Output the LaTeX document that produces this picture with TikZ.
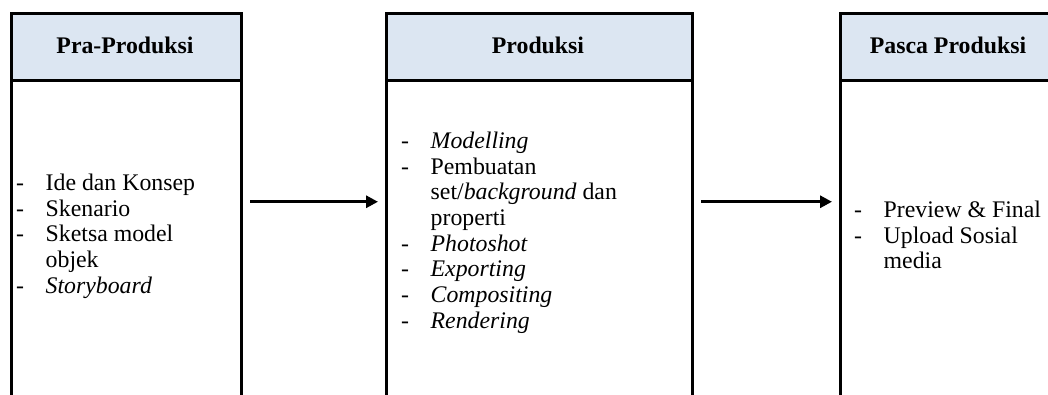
\documentclass[tikz,border=0pt]{standalone}
\usepackage{fontspec}
\setmainfont{Liberation Serif}
\usetikzlibrary{arrows.meta}
\definecolor{hdrfill}{HTML}{DCE6F2}
\newcommand{\itemlist}[1]{\fontsize{23.8}{25.7}\selectfont\renewcommand{\arraystretch}{1}%
  \begin{tabular}{@{}p{29.5pt}@{}l@{}}#1\end{tabular}}
\begin{document}
\begin{tikzpicture}[x=1pt,y=-1pt,
  stagebox/.style={draw=black, line width=3pt, inner sep=0pt, anchor=north west, fill=white},
  hdrbox/.style={draw=black, line width=3pt, inner sep=0pt, anchor=north west, fill=hdrfill},
  hdrtext/.style={inner sep=0pt, font=\fontsize{23.8}{25.7}\selectfont\bfseries},
  listtext/.style={inner sep=0pt, anchor=west, align=left},
  flow/.style={line width=3pt, -{Triangle[length=12pt,width=12pt]}, shorten <=7pt, shorten >=7pt}]
\useasboundingbox (0,0) rectangle (1048,394);
\clip (0,0) rectangle (1048,394);
% stage boxes
\node[stagebox, minimum width=230pt, minimum height=384.5pt] (p1) at (10,11.5) {};
\node[stagebox, minimum width=306pt, minimum height=384.5pt] (p2) at (385,11.5) {};
\node[stagebox, minimum width=218pt, minimum height=384.5pt] (p3) at (839,11.5) {};
% headers
\node[hdrbox, minimum width=230pt, minimum height=67.5pt] (h1) at (10,11.5) {};
\node[hdrbox, minimum width=306pt, minimum height=67.5pt] (h2) at (385,11.5) {};
\node[hdrbox, minimum width=218pt, minimum height=67.5pt] (h3) at (839,11.5) {};
\node[hdrtext] (t1) at (125,45.5) {Pra-Produksi};
\node[hdrtext] (t2) at (538,45.5) {Produksi};
\node[hdrtext] (t3) at (948,45.5) {Pasca Produksi};
% lists
\node[listtext] (l1) at (16,236.7) {\itemlist{-&Ide dan Konsep\\ -&Skenario\\ -&Sketsa model\\ &objek\\ -&\textit{Storyboard}}};
\node[listtext] (l2) at (401,233.3) {\itemlist{-&\textit{Modelling}\\ -&Pembuatan\\ &set/\textit{background} dan\\ &properti\\ -&\textit{Photoshot}\\ -&\textit{Exporting}\\ -&\textit{Compositing}\\ -&\textit{Rendering}}};
\node[listtext] (l3) at (854,238) {\itemlist{-&Preview \& Final\\ -&Upload Sosial\\ &media}};
% arrows
\draw[flow] ([yshift=3.5pt]p1.east) -- ([yshift=3.5pt]p2.west);
\draw[flow] ([yshift=3.5pt]p2.east) -- ([yshift=3.5pt]p3.west);
\end{tikzpicture}
\end{document}
